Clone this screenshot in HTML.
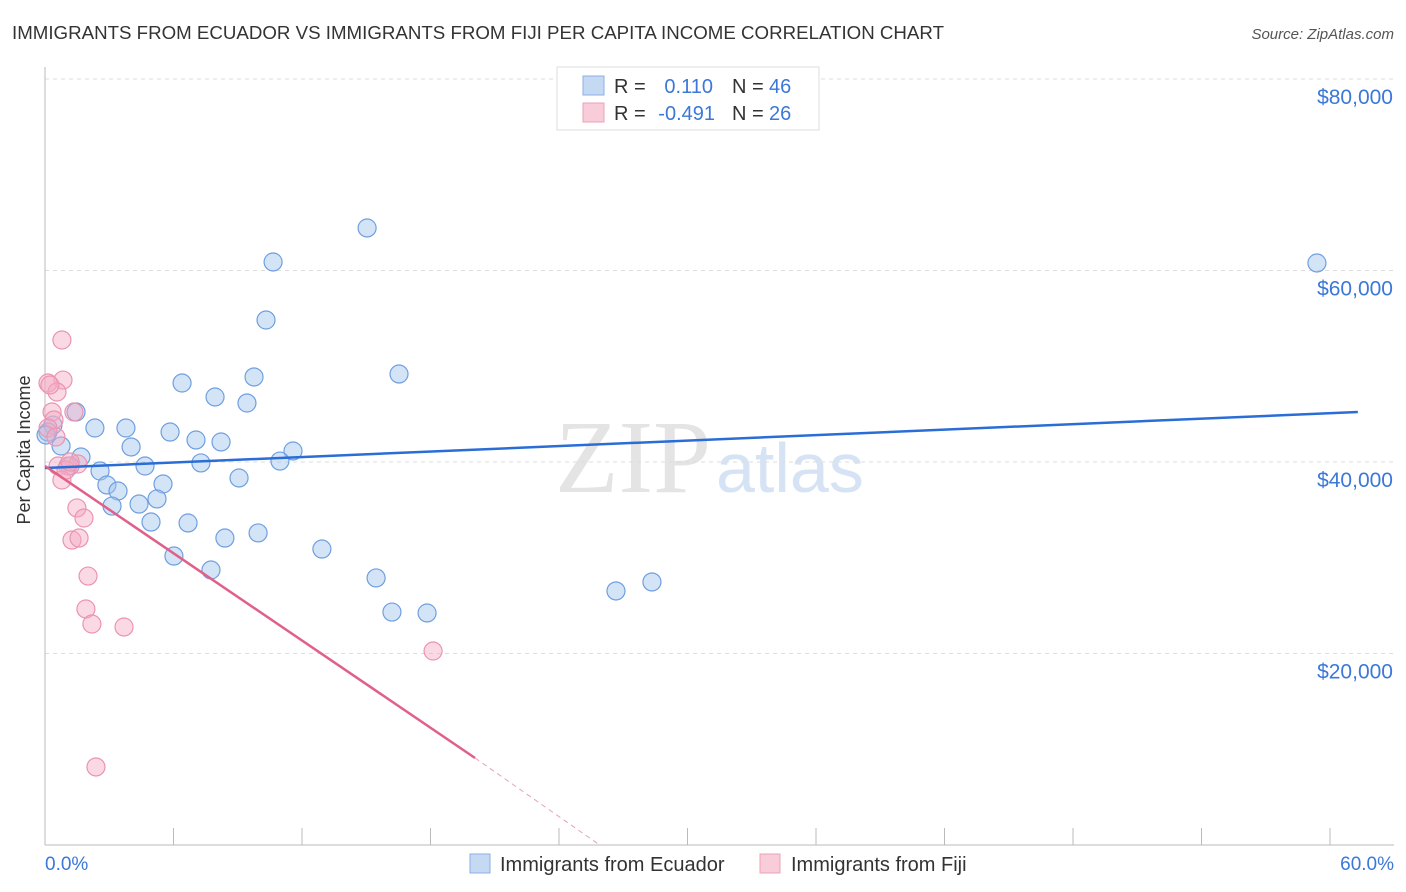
<!DOCTYPE html>
<html><head><meta charset="utf-8"><style>
body{margin:0;background:#fff;font-family:"Liberation Sans",sans-serif}
svg{display:block}
</style></head><body>
<svg id="chart" width="1406" height="892">
<text x="12" y="39" font-size="18.5" fill="#333" textLength="932" lengthAdjust="spacingAndGlyphs">IMMIGRANTS FROM ECUADOR VS IMMIGRANTS FROM FIJI PER CAPITA INCOME CORRELATION CHART</text>
<text x="1394" y="39" font-size="15" fill="#555" font-style="italic" text-anchor="end">Source: ZipAtlas.com</text>
<text x="555" y="492" font-size="104" fill="#e4e4e4" font-family="Liberation Serif,serif">ZIP</text>
<text x="716" y="492" font-size="70" fill="#d5e3f5">atlas</text>
<g id="grid"></g>
<line x1="45" y1="67" x2="45" y2="845" stroke="#bbb"/>
<line x1="45" y1="845" x2="1394" y2="845" stroke="#bbb"/>
<text x="36" y="456" font-size="18" fill="#333" text-anchor="middle" transform="rotate(-90 30 456)">Per Capita Income</text>
<text x="45" y="870" font-size="19" fill="#3b78d8">0.0%</text>
<text x="1394" y="870" font-size="19" fill="#3b78d8" text-anchor="end">60.0%</text>
<g id="pts"></g>
<g id="trend"></g>
<g>
<rect x="557" y="67" width="262" height="63" fill="#fff" stroke="#ddd"/>
<rect x="583" y="76" width="21" height="19" fill="#c5d9f3" stroke="#8ab0e6"/>
<rect x="583" y="103" width="21" height="19" fill="#f9ccd9" stroke="#eca0b8"/>
<text x="614" y="93" font-size="20" fill="#333">R =</text>
<text x="713" y="93" font-size="20" fill="#3b78d8" text-anchor="end">0.110</text>
<text x="732" y="93" font-size="20" fill="#333">N =</text>
<text x="769" y="93" font-size="20" fill="#3b78d8">46</text>
<text x="614" y="120" font-size="20" fill="#333">R =</text>
<text x="715" y="120" font-size="20" fill="#3b78d8" text-anchor="end">-0.491</text>
<text x="732" y="120" font-size="20" fill="#333">N =</text>
<text x="769" y="120" font-size="20" fill="#3b78d8">26</text>
</g>
<g>
<rect x="470" y="854" width="20" height="19" fill="#c5d9f3" stroke="#8ab0e6"/>
<text x="500" y="871" font-size="20" fill="#333">Immigrants from Ecuador</text>
<rect x="760" y="854" width="20" height="19" fill="#f9ccd9" stroke="#eca0b8"/>
<text x="791" y="871" font-size="20" fill="#333">Immigrants from Fiji</text>
</g>
</svg>
<script>
const yTicks=[20000,40000,60000,80000];
const yTickLabels=["$20,000","$40,000","$60,000","$80,000"];
const xTicks=[0,6,12,18,24,30,36,42,48,54,60];
const ecuadorX=[15.04,10.65,59.39,10.32,16.53,9.76,6.40,7.94,9.43,1.45,0.37,0.14,2.33,3.78,5.84,7.05,8.22,4.02,0.75,11.58,1.68,2.57,4.67,7.28,10.97,9.06,5.51,2.89,3.41,5.23,4.39,3.13,4.95,6.68,8.40,9.95,6.02,12.93,7.75,15.46,16.20,17.84,26.66,28.34,1.17,0.05];
const ecuadorY=[64440,60890,60784,54830,49190,48880,48250,46790,46160,45220,43860,43130,43550,43550,43130,42300,42090,41570,41670,41150,40520,39060,39580,39900,40100,38330,37700,37600,36970,36140,35610,35400,33730,33630,32060,32590,30180,30910,28720,27890,24330,24230,26530,27470,39580,42820];
const fijiX=[0.79,0.84,0.14,0.56,0.33,0.42,1.35,0.14,0.61,1.07,1.54,0.79,1.49,1.82,1.26,1.59,2.01,1.91,2.19,3.69,18.12,2.38,0.23,0.98,1.17,0.51];
const fijiY=[52740,48560,48250,47310,45220,44390,45220,43550,39580,39580,39790,38120,35200,34150,31850,32060,28090,24650,23080,22770,20260,8150,48040,39160,40000,42610];
const ecuadorTrend=[[0,39373],[61.3,45222]];
const fijiTrend=[[0,39582],[20.08,9086],[25.9,0]];
const NS="http://www.w3.org/2000/svg";
const sx=v=>45+v/60*1285, sy=v=>845-v/20000*191.5;
function mk(tag,attrs,parent){const e=document.createElementNS(NS,tag);for(const k in attrs)e.setAttribute(k,attrs[k]);parent.appendChild(e);return e;}
const grid=document.getElementById('grid');
yTicks.forEach((t,i)=>{
 const l=mk('line',{x1:45,x2:1394,y1:sy(t),y2:sy(t),stroke:'#ddd','stroke-dasharray':'4,4'},grid);
 
 
 const tx=mk('text',{x:1393,y:sy(t)+25,'font-size':21,fill:'#3b78d8','text-anchor':'end'},grid);
 tx.textContent=yTickLabels[i];
 
 
});
xTicks.forEach(t=>{
 const l=mk('line',{x1:sx(t),x2:sx(t),y1:828,y2:845,stroke:'#bbb'},grid);
 
 
});
const pts=document.getElementById('pts');
ecuadorX.forEach((x,i)=>{
 const c=mk('circle',{cx:sx(x),cy:sy(ecuadorY[i]),r:9,fill:'rgba(160,195,238,0.45)',stroke:'#6f9fe0','stroke-width':1.2},pts);
 
 
});
fijiX.forEach((x,i)=>{
 const c=mk('circle',{cx:sx(x),cy:sy(fijiY[i]),r:9,fill:'rgba(244,170,195,0.45)',stroke:'#eb94b0','stroke-width':1.2},pts);
 
 
});
const tr=document.getElementById('trend');
const bl=mk('line',{x1:sx(ecuadorTrend[0][0]),y1:sy(ecuadorTrend[0][1]),x2:sx(ecuadorTrend[1][0]),y2:sy(ecuadorTrend[1][1]),stroke:'#2a6dd6','stroke-width':2.5},tr);


const pl=mk('line',{x1:sx(fijiTrend[0][0]),y1:sy(fijiTrend[0][1]),x2:sx(fijiTrend[1][0]),y2:sy(fijiTrend[1][1]),stroke:'#e0608a','stroke-width':2.5},tr);


const pd=mk('line',{x1:sx(fijiTrend[1][0]),y1:sy(fijiTrend[1][1]),x2:sx(fijiTrend[2][0]),y2:sy(fijiTrend[2][1]),stroke:'#e8a0b8','stroke-width':1,'stroke-dasharray':'5,4'},tr);


</script>
</body></html>
